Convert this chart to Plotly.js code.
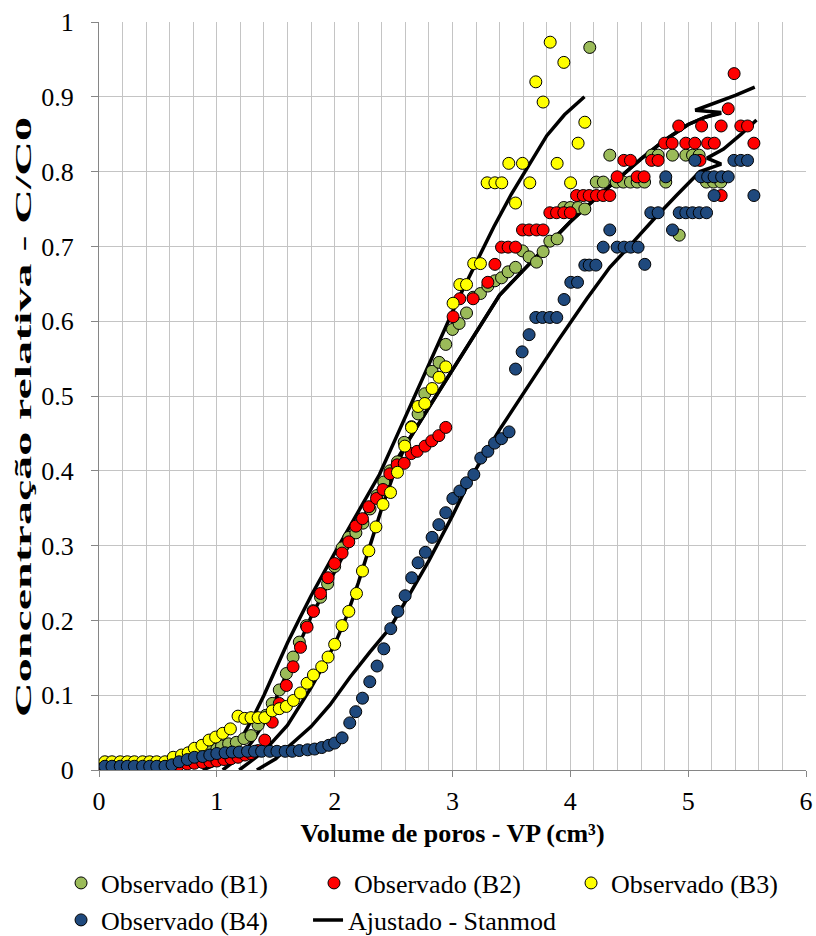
<!DOCTYPE html>
<html>
<head>
<meta charset="utf-8">
<script src="https://cdn.plot.ly/plotly-3.0.1.min.js"></script>
<style>
  html, body { margin: 0; padding: 0; background: #ffffff; }
  #chart { width: 816px; height: 936px; }
</style>
</head>
<body>
<div id="chart"></div>
<script>
const b1X = [0.05,0.11,0.18,0.24,0.30,0.37,0.43,0.49,0.56,0.62,0.68,0.75,0.81,0.88,0.94,1.00,1.04,1.10,1.165,1.23,1.29,1.35,1.415,1.47,1.53,1.59,1.647,1.70,1.76,1.817,1.88,1.94,2.00,2.063,2.12,2.18,2.24,2.30,2.36,2.417,2.47,2.533,2.59,2.652,2.708,2.765,2.827,2.886,2.943,3.00,3.056,3.119,3.175,3.237,3.30,3.36,3.416,3.472,3.535,3.594,3.65,3.713,3.769,3.826,3.888,3.945,4.00,4.066,4.123,4.165,4.22,4.28,4.335,4.39,4.45,4.51,4.567,4.63,4.69,4.745,4.81,4.867,4.924,4.98,5.037,5.093,5.155,5.215,5.277];
const b1Y = [0.010,0.010,0.010,0.010,0.010,0.010,0.010,0.010,0.010,0.012,0.015,0.018,0.020,0.022,0.025,0.028,0.032,0.035,0.037,0.042,0.046,0.060,0.073,0.089,0.107,0.129,0.151,0.171,0.193,0.213,0.231,0.249,0.272,0.297,0.311,0.317,0.330,0.349,0.367,0.385,0.400,0.412,0.438,0.459,0.476,0.503,0.533,0.545,0.569,0.589,0.597,0.611,0.632,0.637,0.647,0.654,0.658,0.666,0.672,0.694,0.686,0.679,0.693,0.707,0.710,0.752,0.752,0.752,0.750,0.966,0.786,0.786,0.822,0.786,0.786,0.786,0.786,0.786,0.822,0.822,0.786,0.822,0.715,0.822,0.822,0.822,0.786,0.786,0.786];

const b2X = [0.05,0.11,0.18,0.24,0.30,0.37,0.43,0.49,0.56,0.62,0.68,0.75,0.81,0.88,0.94,1.00,1.06,1.12,1.18,1.24,1.29,1.35,1.407,1.47,1.53,1.59,1.647,1.71,1.766,1.82,1.88,1.944,2.00,2.063,2.12,2.18,2.236,2.29,2.355,2.41,2.468,2.53,2.59,2.65,2.70,2.767,2.824,2.884,2.943,3.005,3.062,3.175,3.30,3.36,3.416,3.472,3.535,3.594,3.65,3.713,3.769,3.826,3.883,3.945,4.00,4.053,4.11,4.16,4.222,4.279,4.335,4.397,4.454,4.51,4.567,4.626,4.69,4.745,4.80,4.864,4.92,4.98,5.057,5.10,5.114,5.165,5.222,5.28,5.28,5.34,5.39,5.447,5.504,5.558];
const b2Y = [0.003,0.003,0.003,0.003,0.003,0.003,0.003,0.003,0.003,0.005,0.007,0.008,0.009,0.010,0.011,0.012,0.014,0.015,0.017,0.020,0.022,0.026,0.040,0.064,0.089,0.113,0.138,0.164,0.191,0.212,0.236,0.257,0.276,0.290,0.305,0.326,0.336,0.352,0.363,0.375,0.396,0.408,0.410,0.423,0.426,0.433,0.440,0.447,0.458,0.606,0.630,0.630,0.652,0.676,0.699,0.699,0.699,0.722,0.722,0.722,0.722,0.745,0.745,0.745,0.745,0.768,0.768,0.768,0.768,0.768,0.768,0.793,0.815,0.815,0.793,0.793,0.815,0.815,0.838,0.838,0.861,0.838,0.838,0.815,0.861,0.838,0.838,0.768,0.861,0.884,0.931,0.861,0.861,0.838];

const b3X = [0.05,0.11,0.18,0.24,0.30,0.37,0.43,0.49,0.56,0.63,0.70,0.757,0.81,0.874,0.934,0.99,1.05,1.115,1.18,1.237,1.29,1.35,1.407,1.47,1.53,1.59,1.65,1.71,1.766,1.82,1.89,1.944,2.00,2.063,2.12,2.185,2.236,2.29,2.35,2.41,2.474,2.533,2.595,2.652,2.708,2.765,2.827,2.886,2.943,3.005,3.062,3.119,3.18,3.237,3.294,3.36,3.418,3.478,3.535,3.594,3.656,3.707,3.769,3.829,3.888,3.945,4.002,4.066,4.123];
const b3Y = [0.011,0.011,0.011,0.011,0.011,0.011,0.011,0.011,0.011,0.017,0.020,0.023,0.029,0.033,0.040,0.044,0.049,0.055,0.072,0.069,0.070,0.070,0.070,0.079,0.082,0.085,0.093,0.103,0.116,0.127,0.138,0.151,0.168,0.193,0.212,0.236,0.266,0.293,0.325,0.355,0.371,0.398,0.433,0.458,0.486,0.490,0.510,0.525,0.539,0.624,0.649,0.649,0.677,0.677,0.785,0.785,0.785,0.811,0.758,0.811,0.785,0.920,0.893,0.973,0.811,0.946,0.785,0.838,0.866];

const b4X = [0.05,0.11,0.18,0.24,0.30,0.37,0.43,0.49,0.56,0.62,0.68,0.75,0.81,0.88,0.94,1.00,1.07,1.13,1.19,1.26,1.32,1.38,1.45,1.51,1.58,1.64,1.70,1.77,1.83,1.89,1.95,2.00,2.063,2.128,2.179,2.236,2.298,2.36,2.417,2.476,2.536,2.598,2.654,2.708,2.77,2.827,2.884,2.943,3.003,3.062,3.119,3.181,3.24,3.30,3.357,3.416,3.48,3.535,3.591,3.65,3.707,3.764,3.826,3.885,3.947,4.004,4.061,4.123,4.16,4.217,4.279,4.335,4.397,4.456,4.513,4.575,4.632,4.683,4.745,4.81,4.867,4.924,4.98,5.037,5.057,5.094,5.108,5.156,5.165,5.22,5.22,5.284,5.34,5.388,5.447,5.504,5.558];
const b4Y = [0.005,0.005,0.005,0.005,0.005,0.005,0.005,0.005,0.005,0.007,0.011,0.014,0.017,0.018,0.020,0.022,0.023,0.024,0.024,0.025,0.025,0.025,0.025,0.025,0.025,0.025,0.026,0.027,0.028,0.030,0.033,0.036,0.043,0.063,0.078,0.096,0.118,0.139,0.162,0.189,0.212,0.233,0.257,0.277,0.291,0.311,0.328,0.344,0.363,0.373,0.384,0.395,0.417,0.426,0.437,0.443,0.452,0.536,0.559,0.582,0.605,0.605,0.605,0.605,0.629,0.652,0.652,0.675,0.675,0.675,0.699,0.722,0.699,0.699,0.699,0.699,0.676,0.745,0.745,0.793,0.722,0.745,0.745,0.745,0.815,0.745,0.793,0.745,0.793,0.793,0.768,0.793,0.793,0.815,0.815,0.815,0.768];

// ---- Fitted (Stanmod) curves ----
const fitSX = [0.88,1.0,1.1,1.2,1.3,1.4,1.5,1.6,1.7,1.8,2.0,2.2,2.38,2.5,2.6,2.7,2.8,2.95,3.05,3.2,3.35,3.5,3.65,3.8,3.95,4.12];
const fitSY = [0,0.008,0.02,0.04,0.068,0.10,0.135,0.17,0.202,0.233,0.29,0.345,0.395,0.437,0.472,0.508,0.543,0.597,0.63,0.678,0.726,0.77,0.808,0.848,0.876,0.90];
const fitPX = [1.05,1.2,1.3,1.4,1.5,1.6,1.7,1.8,2.0,2.2,2.355,2.5,2.6,2.8,3.0,3.2,3.4,3.6,3.8,4.0,4.2,4.4,4.6,4.8,5.0,5.15,5.28];
const fitPY = [0,0.018,0.038,0.063,0.095,0.132,0.17,0.205,0.265,0.325,0.37,0.408,0.434,0.485,0.535,0.586,0.635,0.668,0.70,0.733,0.762,0.79,0.817,0.842,0.863,0.873,0.878];
const fitQX = [1.19,1.4,1.6,1.8,1.93,2.0,2.1,2.2,2.3,2.4,2.5,2.6,2.8,3.0,3.2,3.4,3.6,3.8,4.0,4.2,4.4,4.6,4.8,5.0,5.15,5.28,5.06,5.2,5.4,5.565];
const fitQY = [0,0.025,0.06,0.11,0.147,0.168,0.205,0.25,0.30,0.35,0.395,0.434,0.485,0.535,0.586,0.635,0.668,0.70,0.733,0.762,0.79,0.817,0.842,0.863,0.873,0.879,0.882,0.89,0.902,0.913];
const fitDX = [1.34,1.5,1.6,1.8,1.96,2.13,2.3,2.47,2.6,2.8,3.0,3.175,3.4,3.66,3.9,4.14,4.335,4.5,4.7,4.9,5.1,5.28,5.16,5.3,5.45,5.58];
const fitDY = [0,0.015,0.03,0.058,0.087,0.124,0.158,0.19,0.225,0.28,0.34,0.396,0.455,0.518,0.575,0.63,0.672,0.70,0.735,0.768,0.80,0.81,0.818,0.83,0.85,0.869];

const names = ['Observado (B1)','Observado (B2)','Observado (B3)','Observado (B4)'];
const fillColors = ['#9BBB59','#FF0000','#FFFF00','#1F497D'];
const fitName = 'Ajustado - Stanmod';

function obs(x, y, i, legend) {
  return {
    type: 'scatter', mode: 'markers', x: x, y: y, name: names[i],
    legend: legend,
    marker: { size: 12, color: fillColors[i], line: { color: '#000000', width: 1 } },
    hoverinfo: 'x+y'
  };
}
function fit(x, y, show) {
  return {
    type: 'scatter', mode: 'lines', x: x, y: y, name: fitName,
    legend: 'legend5', showlegend: show,
    line: { color: '#000000', width: 3.5 },
    hoverinfo: 'x+y'
  };
}

const data = [
  fit(fitSX, fitSY, false),
  fit(fitPX, fitPY, false),
  fit(fitQX, fitQY, false),
  fit(fitDX, fitDY, false),
  obs(b1X, b1Y, 0, 'legend'),
  obs(b2X, b2Y, 1, 'legend2'),
  obs(b3X, b3Y, 2, 'legend3'),
  obs(b4X, b4Y, 3, 'legend4'),
  fit([null], [null], true)
];

const serif = '"Liberation Serif", "Times New Roman", Times, serif';
function leg(x, y) {
  return {
    orientation: 'h', xref: 'container', yref: 'container',
    x: x, xanchor: 'left', y: y, yanchor: 'middle',
    font: { family: serif, size: 26, color: '#000000' },
    itemwidth: 30, bgcolor: 'rgba(0,0,0,0)', borderwidth: 0
  };
}
const layout = {
  width: 816, height: 936,
  margin: { l: 99, r: 10, t: 22, b: 166, autoexpand: false },
  paper_bgcolor: '#ffffff', plot_bgcolor: '#ffffff',
  font: { family: serif, color: '#000000', size: 26 },
  showlegend: true,
  hovermode: false,
  xaxis: {
    range: [0, 6], dtick: 1, tick0: 0,
    showgrid: true, gridcolor: '#c4c4c4', gridwidth: 1,
    minor: { dtick: 0.2, showgrid: true, gridcolor: '#c4c4c4', gridwidth: 1 },
    showline: true, linecolor: '#868686', linewidth: 1,
    ticks: 'outside', ticklen: 6, tickcolor: '#868686',
    ticklabelstandoff: 2,
    zeroline: false,
    tickfont: { family: serif, size: 26, color: '#000000' },
    title: { text: '<b>Volume de poros - VP (cm³)</b>', font: { family: serif, size: 26, color: '#000000' }, standoff: 10 }
  },
  yaxis: {
    range: [0, 1], dtick: 0.1, tick0: 0,
    showgrid: true, gridcolor: '#c4c4c4', gridwidth: 1,
    showline: true, linecolor: '#868686', linewidth: 1,
    ticks: 'outside', ticklen: 7, tickcolor: '#868686',
    ticklabelstandoff: 12,
    zeroline: false,
    tickfont: { family: serif, size: 26, color: '#000000' },
    title: { text: '<b>Concentração relativa - C/C0</b>', font: { family: serif, size: 24, color: '#000000' }, standoff: 12 }
  },
  legend:  leg(0.0748, 0.0566),
  legend2: leg(0.3848, 0.0566),
  legend3: leg(0.6998, 0.0566),
  legend4: leg(0.0748, 0.0171),
  legend5: leg(0.3775, 0.0171)
};

Plotly.newPlot('chart', data, layout, { displayModeBar: false, responsive: false }).then(function () {
  // Vertical title: the reference stretches it along its length (about y 115..720).
  const t = document.querySelector('.ytitle');
  if (t) {
    const cx = 31, cy = 417;
    t.setAttribute('x', cx);
    t.setAttribute('y', cy);
    const len = t.getComputedTextLength ? t.getComputedTextLength() : 330;
    const s = len > 0 ? 600 / len : 1.8;
    t.setAttribute('transform',
      'rotate(-90,' + cx + ',' + cy + ') translate(' + cx + ',' + cy + ') scale(' + s.toFixed(3) + ',1) translate(' + (-cx) + ',' + (-cy) + ')');
  }
  // Horizontal title: centre it vertically where the reference has it.
  const xt = document.querySelector('.xtitle');
  if (xt && xt.getBBox) {
    const bb = xt.getBBox();
    const dy = 834 - (bb.y + bb.height / 2);
    const old = xt.getAttribute('transform') || '';
    xt.setAttribute('transform', 'translate(0,' + dy.toFixed(1) + ') ' + old);
  }
});
</script>
</body>
</html>
